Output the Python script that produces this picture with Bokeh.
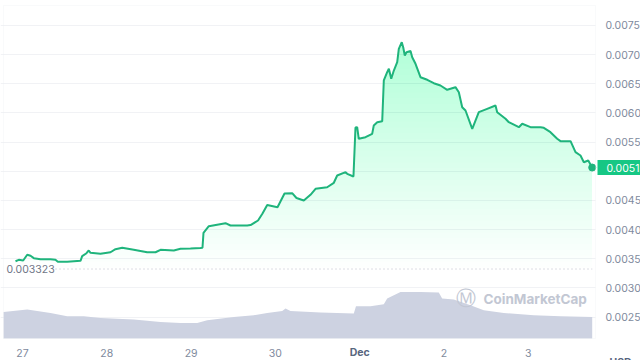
import numpy as np
from bokeh.plotting import figure
from bokeh.models import Range1d, FixedTicker, Label, BoxAnnotation, Grid
from bokeh.core.properties import value
from bokeh.embed import file_html
from bokeh.resources import INLINE

# ---- data (days since Nov 27 00:00) ----
price_day = [-0.083, -0.044, 0.008, 0.056, 0.095, 0.134, 0.214, 0.332, 0.391, 0.419,
             0.530, 0.688, 0.708, 0.759, 0.786, 0.807, 0.925, 1.044, 1.103, 1.183,
             1.320, 1.479, 1.578, 1.637, 1.795, 1.874, 1.993, 2.111, 2.135, 2.147,
             2.210, 2.408, 2.467, 2.665, 2.705, 2.794, 2.847, 2.903, 3.025, 3.108,
             3.199, 3.250, 3.337, 3.416, 3.476, 3.614, 3.693, 3.733, 3.832, 3.852,
             3.926, 3.950, 3.970, 3.989, 4.069, 4.148, 4.167, 4.208, 4.267, 4.286,
             4.326, 4.346, 4.374, 4.405, 4.445, 4.464, 4.499, 4.516, 4.535, 4.555,
             4.603, 4.623, 4.662, 4.721, 4.801, 4.879, 4.958, 5.038, 5.136, 5.176,
             5.216, 5.255, 5.335, 5.413, 5.512, 5.611, 5.631, 5.730, 5.769, 5.888,
             5.928, 6.026, 6.145, 6.184, 6.263, 6.343, 6.382, 6.501, 6.560, 6.619,
             6.659, 6.711, 6.758]
price_val = [0.003457, 0.003481, 0.003469, 0.003567, 0.003550, 0.003509, 0.003491, 0.003491, 0.003481, 0.003447,
             0.003447, 0.003464, 0.003543, 0.003594, 0.003641, 0.003601, 0.003584, 0.003611, 0.003663, 0.003687,
             0.003653, 0.003611, 0.003611, 0.003653, 0.003641, 0.003670, 0.003675, 0.003683, 0.003687, 0.003944,
             0.004057, 0.004109, 0.004069, 0.004069, 0.004077, 0.004155, 0.004275, 0.004421, 0.004383, 0.004618,
             0.004624, 0.004541, 0.004498, 0.004596, 0.004699, 0.004726, 0.004802, 0.004927, 0.004984, 0.004956,
             0.004910, 0.005750, 0.005756, 0.005557, 0.005584, 0.005642, 0.005785, 0.005841, 0.005858, 0.006557,
             0.006699, 0.006757, 0.006586, 0.006728, 0.006871, 0.007100, 0.007214, 0.007128, 0.006985, 0.007042,
             0.007063, 0.006956, 0.006843, 0.006613, 0.006569, 0.006510, 0.006471, 0.006397, 0.006442, 0.006356,
             0.006099, 0.006042, 0.005728, 0.006013, 0.006071, 0.006128, 0.006013, 0.005900, 0.005841, 0.005756,
             0.005814, 0.005756, 0.005756, 0.005745, 0.005670, 0.005557, 0.005516, 0.005516, 0.005327, 0.005270,
             0.005155, 0.005184, 0.005064]

vol_day = [-0.225, 0.056, 0.332, 0.530, 0.727, 0.925, 1.320, 1.637, 1.874, 2.072,
           2.191, 2.507, 2.744, 2.903, 3.081, 3.120, 3.179, 3.535, 3.930, 3.956,
           4.128, 4.286, 4.326, 4.484, 4.721, 4.938, 4.978, 5.116, 5.314, 5.472,
           5.709, 6.065, 6.382, 6.758]
vol_val = [26.6, 29.0, 25.6, 22.3, 22.3, 20.6, 19.0, 16.6, 15.6, 15.6,
           18.3, 21.6, 23.3, 25.6, 27.6, 30.0, 27.6, 26.0, 25.0, 32.3,
           32.3, 34.3, 40.0, 46.6, 46.6, 46.0, 40.0, 39.0, 33.3, 28.3,
           25.6, 23.3, 22.3, 21.6]

tick_days = [0, 1, 2, 3, 4, 5, 6]
tick_labels = ["27", "28", "29", "30", "Dec", "2", "3"]
price_ticks = [0.0025, 0.0030, 0.0035, 0.0040, 0.0045, 0.0050, 0.0055, 0.0060, 0.0065, 0.0070, 0.0075]
ref_price = 0.003323
ref_label = "0.003323"
last_label = "0.0051"
currency = "USD"

GREEN = "#1fb47c"
BADGE = "#16c784"
GREY_TXT = "#808a9d"
DARK_TXT = "#58667e"
FONT = "Inter"
FS = "10.5px"

# the plotting frame covers the whole canvas; the chart's plot area is 3..595 x 5..338 px
X0, X1 = -0.26097, 7.33096
Y0, Y1 = 0.0017539, 0.0079288
PLOT_RIGHT_X = 6.7972      # day value at the plot area's right edge
PLOT_BOTTOM_Y = 0.0021312  # price value at the plot area's bottom edge

p = figure(width=640, height=360, output_backend="svg", toolbar_location=None,
           x_range=Range1d(X0, X1), y_range=Range1d(Y0, Y1),
           x_axis_location=None, y_axis_location=None,
           min_border=0, min_border_left=0, min_border_right=0,
           min_border_top=0, min_border_bottom=0)
p.extra_y_ranges = {"vol": Range1d(-22, 338)}
p.background_fill_color = "white"
p.border_fill_color = "white"
p.outline_line_color = None
p.grid.visible = False

p.add_layout(Grid(dimension=1, ticker=FixedTicker(ticks=price_ticks),
                  grid_line_color="#f1f2f5", level="underlay"))
# hide the gridlines right of the plot area
p.add_layout(BoxAnnotation(left=595, right=640, bottom=0, top=360,
                           left_units="screen", right_units="screen",
                           bottom_units="screen", top_units="screen",
                           fill_color="white", fill_alpha=1.0, line_color=None,
                           level="underlay"))

# volume
p.varea(x=vol_day, y1=0, y2=vol_val, y_range_name="vol", fill_color="#cdd2e1", fill_alpha=1.0)

# gradient fill under price
pd_arr = np.array(price_day)
pv_arr = np.array(price_val)
levels = np.arange(0.00335, 0.00735, 0.0001)
for t in levels:
    p.varea(x=pd_arr, y1=t, y2=np.maximum(pv_arr, t), fill_color="#16c784", fill_alpha=0.009)

# reference dotted line
p.segment(x0=[price_day[0]], x1=[price_day[-1]], y0=[ref_price], y1=[ref_price],
          line_color="#b8bdc8", line_width=1, line_dash="1 3")
p.add_layout(Label(x=6, y=ref_price, x_units="screen", y_units="data", text=ref_label,
                   text_font=FONT, text_font_size=FS, text_color="#6f7687",
                   text_baseline="middle", background_fill_color="white"))

# price line
p.line(price_day, price_val, line_color=GREEN, line_width=2)
p.scatter([price_day[-1]], [price_val[-1]], size=7, fill_color=GREEN, line_color=GREEN)

# plot area border
p.add_layout(BoxAnnotation(left=3, right=595, bottom=22, top=355,
                           left_units="screen", right_units="screen",
                           bottom_units="screen", top_units="screen",
                           fill_alpha=0, line_color="#eceef2", line_width=1))

# watermark
p.add_layout(Label(x=455, y=63, x_units="screen", y_units="screen", text="\u24c2",
                   text_font="DejaVu Sans", text_font_size="20px", text_color="#c2c7d3",
                   text_baseline="middle"))
p.add_layout(Label(x=483, y=62, x_units="screen", y_units="screen", text="CoinMarketCap",
                   text_font=FONT, text_font_size="13.5px", text_color="#c2c7d3",
                   text_baseline="middle", text_font_style="bold"))

# price axis labels (right)
p.text(x=[PLOT_RIGHT_X] * len(price_ticks), y=price_ticks,
       text=["%.4f" % v for v in price_ticks], x_offset=10,
       text_font=value(FONT), text_font_size=FS, text_color=GREY_TXT,
       text_baseline="middle", text_align="left")

# date axis labels (bottom)
p.text(x=tick_days, y=[PLOT_BOTTOM_Y] * len(tick_days), text=tick_labels, y_offset=14,
       text_font=value(FONT), text_font_size=FS,
       text_color=[DARK_TXT if l == "Dec" else GREY_TXT for l in tick_labels],
       text_font_style=["bold" if l == "Dec" else "normal" for l in tick_labels],
       text_baseline="middle", text_align="center")

# last price badge
p.add_layout(BoxAnnotation(left=597, right=640, left_units="screen", right_units="screen",
                           bottom=price_val[-1] - 0.00013, top=price_val[-1] + 0.00013,
                           fill_color=BADGE, fill_alpha=1.0, line_color=None))
p.add_layout(Label(x=606, y=price_val[-1], x_units="screen", y_units="data", text=last_label,
                   text_font=FONT, text_font_size=FS, text_color="white",
                   text_baseline="middle"))

p.add_layout(Label(x=609, y=5, x_units="screen", y_units="screen", text=currency,
                   text_font=FONT, text_font_size=FS, text_color=DARK_TXT,
                   text_font_style="bold", text_baseline="top"))

open("out.html", "w").write(file_html(p, INLINE))
